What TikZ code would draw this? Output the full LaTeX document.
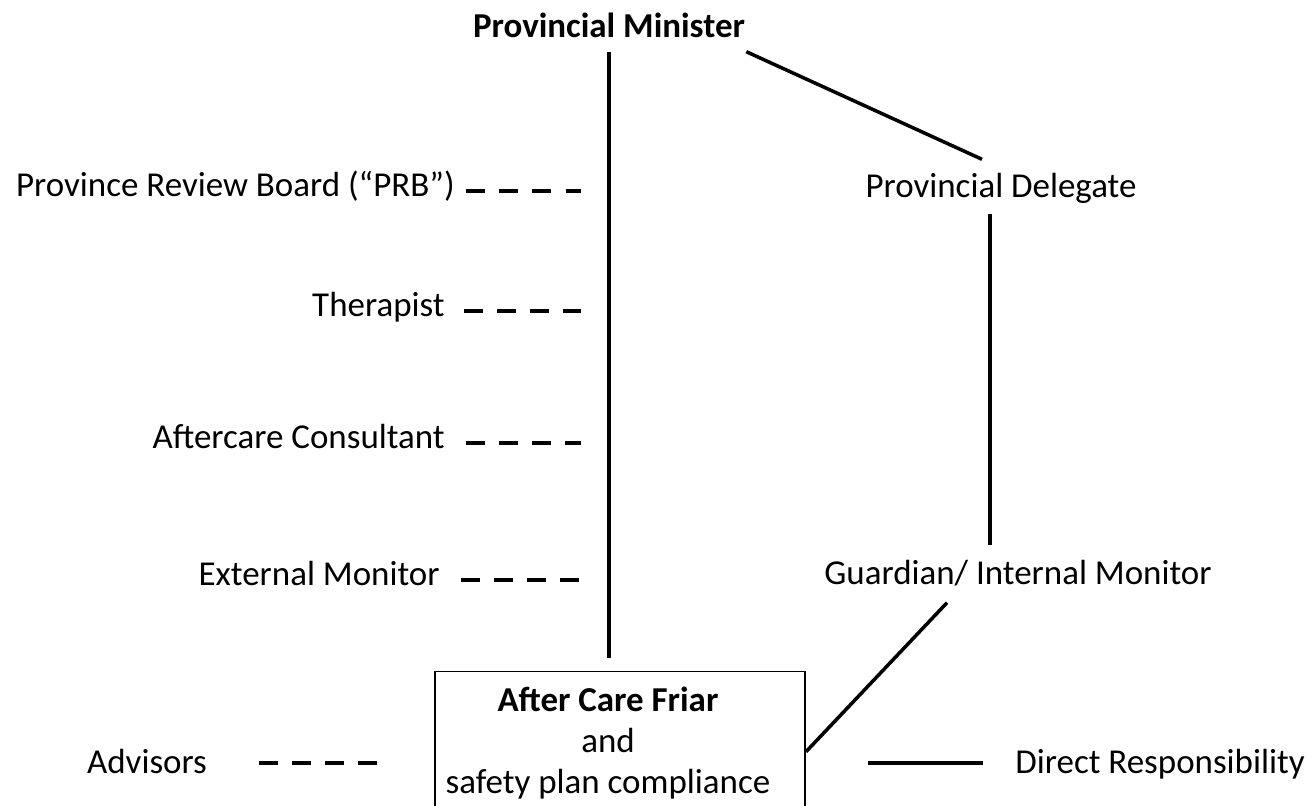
\documentclass[tikz,border=0pt]{standalone}
\usepackage{fontspec}
\setmainfont{Carlito}
\usetikzlibrary{positioning}

\tikzset{
  lbl/.style={inner sep=0pt, text height=1.5ex, text depth=.25ex,
    font=\fontsize{19.9pt}{23.5pt}\selectfont},
  resp/.style={line width=2pt},
  advisor/.style={line width=2.3pt, dash pattern=on 10.8pt off 8pt},
  friarbox/.style={draw, line width=1.1pt, align=center,
    minimum width=7.4cm, minimum height=2.86cm,
    font=\fontsize{19.9pt}{23.5pt}\selectfont}
}

\begin{document}
\begin{tikzpicture}[x=0.02cm,y=-0.02cm]
      \useasboundingbox (0,0) rectangle (1315,805);
      % Draw the chain of responsibility
      \node[lbl,font=\fontsize{19.9pt}{23.5pt}\selectfont\bfseries] (pm) at (609,32) {Provincial Minister};
      \node[lbl] (pd) at (1001,192) {Provincial Delegate};
      \node[lbl] (gim) at (1018,579) {Guardian/ Internal Monitor};
      \node[friarbox] (acf) at (620,743)
        {\mbox{\textbf{After Care Friar}\hspace{0.48cm}}\\
         \mbox{and\hspace{0.48cm}}\\
         \mbox{safety plan compliance\hspace{0.48cm}}};
      % Draw the solid lines
      \draw[resp,shorten <=7pt,shorten >=7pt] (pm.south) -- (pm.south |- acf.north);
      \draw[resp] ([shift={(1,12)}]pm.south east) -- ([shift={(-19,-25)}]pd.north);
      \draw[resp] ([shift={(-11,14)}]pd.south) -- ([shift={(-28,-26)}]gim.north);
      \draw[resp] ([shift={(-71,16)}]gim.south) -- ([yshift=-5]acf.east);
      % Draw the advisors
      \coordinate (spine) at (581,0);
      \node[lbl,anchor=east] (prb) at (455,191) {Province Review Board (“PRB”)};
      \node[lbl,anchor=east] (ther) at (445,311) {Therapist};
      \node[lbl,anchor=east] (acc) at (445,443) {Aftercare Consultant};
      \node[lbl,anchor=east] (ext) at (440,580) {External Monitor};
      \draw[advisor] ([xshift=6.5pt]prb.east) -- (prb.east -| spine);
      \draw[advisor] ([xshift=11pt]ther.east) -- (ther.east -| spine);
      \draw[advisor] ([xshift=12pt]acc.east) -- (acc.east -| spine);
      \draw[advisor] ([xshift=12pt]ext.east) -- (ext.east -| spine);
      % Draw the legend
      \node[lbl] (adv) at (147,768) {Advisors};
      \node[lbl,anchor=west] (dir) at (1015,768) {Direct Responsibility};
      \draw[advisor] (adv.east) ++(52,-5) -- ++(118,0);
      \draw[resp] (dir.west) ++(-147,-5) -- ++(115,0);
\end{tikzpicture}
\end{document}
